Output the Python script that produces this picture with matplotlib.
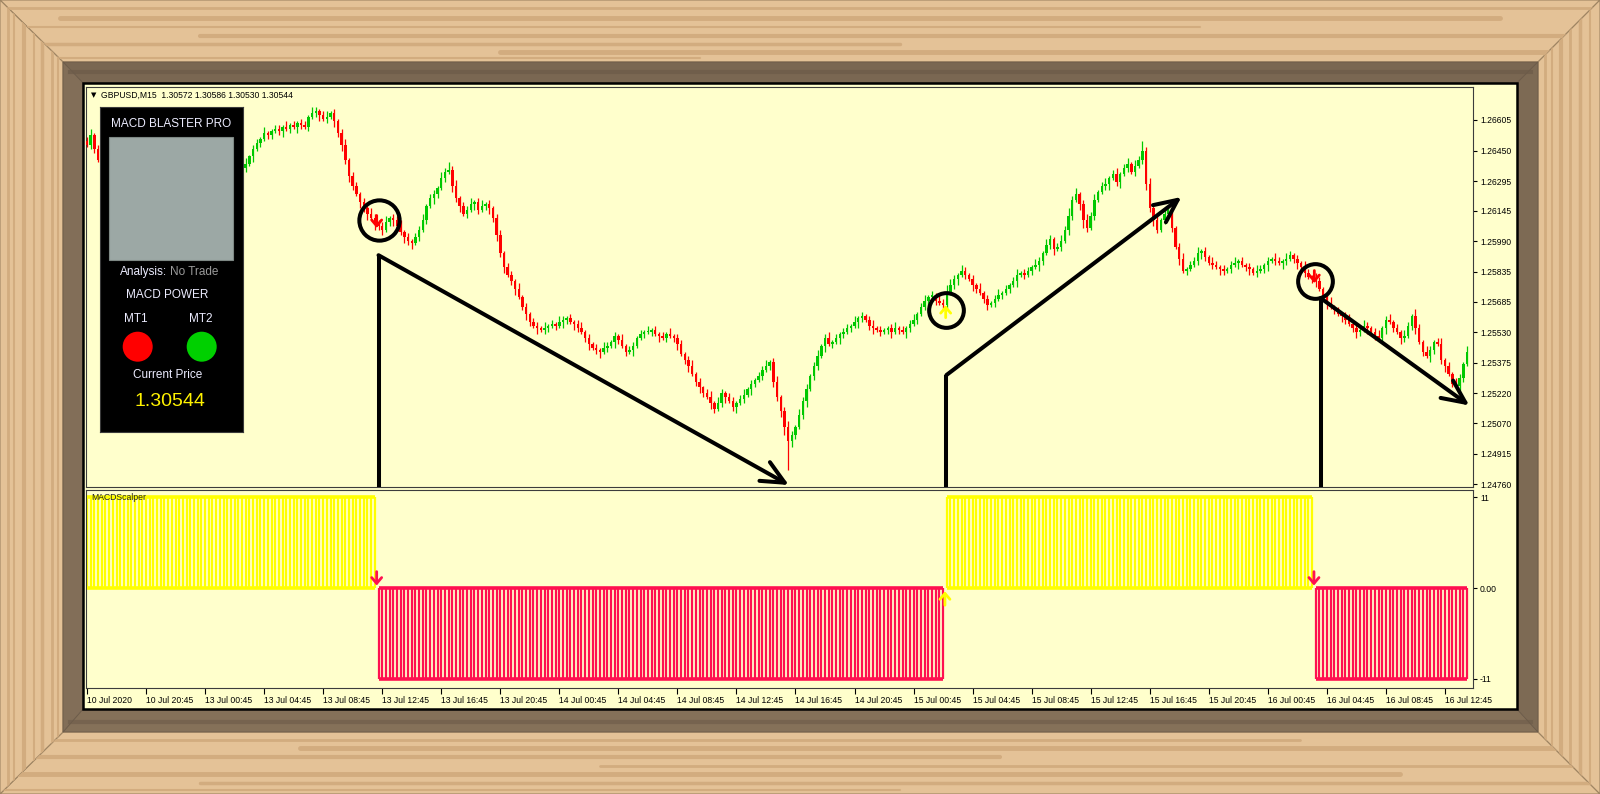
import matplotlib
matplotlib.use("Agg")
import matplotlib.pyplot as plt
from matplotlib.patches import Polygon, Rectangle, Circle
import numpy as np

plt.rcParams["font.family"] = ["Liberation Sans", "DejaVu Sans"]

# ---- data -------------------------------------------------------------
BASE = 1.24700          # closes below are in pips above this level
FIRST_OPEN_PIPS = 180

CLOSE_PIPS = [
    178, 183, 176, 170, 172, 175, 173, 177, 180, 178, 176, 179, 182, 180, 177, 174, 176, 178, 175, 172, 170, 173, 171, 168, 170,
    172, 169, 167, 170, 173, 171, 168, 166, 169, 171, 168, 165, 167, 170, 168, 166, 164, 166, 168, 172, 176, 179, 181, 184, 183,
    185, 186, 185, 187, 186, 188, 187, 189, 188, 187, 192, 194, 195, 193, 191, 192, 194, 190, 184, 178, 170, 162, 157, 153, 149,
    146, 143, 141, 139, 137, 135, 139, 141, 140, 137, 134, 131, 129, 128, 131, 135, 140, 147, 151, 153, 156, 161, 164, 165, 157,
    151, 147, 143, 145, 148, 149, 145, 147, 148, 146, 141, 132, 123, 116, 112, 109, 105, 101, 96, 92, 88, 86, 85, 84, 85,
    86, 87, 86, 88, 89, 90, 88, 87, 85, 83, 80, 77, 75, 74, 73, 75, 76, 78, 81, 79, 76, 73, 74, 76, 80,
    82, 83, 83, 84, 82, 81, 80, 82, 81, 80, 77, 72, 69, 66, 62, 58, 55, 52, 50, 47, 44, 47, 52, 50, 48,
    45, 47, 49, 51, 54, 57, 59, 61, 64, 66, 68, 58, 50, 43, 35, 28, 31, 35, 41, 48, 54, 61, 66, 71, 76,
    80, 77, 78, 80, 82, 83, 85, 86, 88, 90, 91, 89, 86, 85, 84, 83, 84, 85, 83, 85, 84, 83, 85, 87, 89,
    92, 96, 99, 101, 102, 99, 98, 97, 103, 107, 110, 112, 114, 112, 110, 107, 105, 103, 100, 97, 98, 100, 102, 103, 105,
    107, 109, 112, 113, 112, 114, 116, 117, 119, 123, 127, 130, 125, 126, 129, 135, 142, 150, 153, 148, 140, 136, 142, 150, 154,
    157, 158, 161, 163, 159, 163, 166, 168, 164, 167, 170, 175, 158, 146, 140, 135, 140, 143, 145, 136, 126, 120, 114, 115, 117,
    119, 123, 124, 121, 118, 117, 116, 115, 114, 115, 117, 118, 119, 117, 116, 115, 113, 114, 115, 117, 119, 120, 119, 118, 119,
    120, 122, 120, 118, 116, 113, 111, 110, 109, 105, 101, 98, 96, 94, 92, 91, 89, 87, 85, 83, 84, 86, 85, 83, 81,
    80, 85, 89, 88, 85, 83, 80, 81, 86, 91, 85, 78, 73, 71, 74, 78, 77, 69, 66, 62, 57, 56, 60, 67, 73,
]

UPPER_WICK = [
    2, 3, 1, 2, 1, 2, 1, 1, 3, 1, 2, 1, 1, 2, 1, 2, 1, 3, 1, 1, 2, 1, 2, 1, 1,
    2, 1, 1, 3, 1, 2, 1, 2, 1, 1, 2, 3, 1, 1, 2, 1, 2, 1, 3, 1, 2, 2, 1, 3, 1,
    1, 2, 2, 1, 3, 1, 2, 1, 2, 2, 1, 3, 2, 1, 2, 3, 1, 2, 1, 2, 3, 1, 2, 2, 1,
    2, 1, 3, 2, 1, 2, 3, 1, 2, 2, 3, 1, 2, 1, 2, 2, 3, 1, 2, 2, 1, 3, 2, 4, 2,
    3, 1, 2, 2, 3, 1, 2, 3, 1, 2, 1, 2, 3, 1, 2, 2, 1, 3, 1, 2, 1, 2, 2, 1, 3,
    1, 2, 1, 3, 2, 1, 2, 1, 2, 3, 1, 2, 1, 2, 1, 3, 2, 1, 2, 1, 3, 1, 2, 2, 1,
    2, 1, 3, 1, 2, 1, 2, 1, 3, 1, 2, 2, 1, 2, 3, 1, 2, 1, 2, 3, 1, 3, 2, 1, 2,
    2, 1, 2, 3, 1, 2, 1, 2, 2, 3, 1, 2, 3, 1, 2, 3, 2, 1, 3, 2, 3, 1, 2, 3, 1,
    2, 3, 1, 2, 1, 2, 2, 1, 3, 1, 2, 1, 2, 3, 1, 2, 1, 1, 2, 3, 1, 2, 1, 2, 3,
    1, 2, 3, 1, 2, 1, 3, 2, 4, 3, 2, 1, 3, 2, 1, 2, 1, 3, 1, 2, 1, 2, 3, 1, 2,
    1, 2, 3, 1, 2, 2, 1, 3, 2, 1, 3, 2, 1, 2, 3, 2, 4, 2, 3, 1, 2, 3, 2, 3, 1,
    2, 3, 1, 2, 3, 1, 2, 3, 1, 3, 2, 5, 2, 3, 2, 3, 1, 2, 2, 3, 1, 2, 3, 1, 2,
    2, 3, 1, 2, 1, 3, 2, 1, 2, 1, 2, 3, 1, 2, 1, 2, 1, 3, 2, 1, 2, 1, 3, 2, 1,
    3, 2, 1, 2, 1, 3, 2, 1, 3, 2, 1, 2, 3, 1, 2, 1, 2, 3, 1, 2, 1, 3, 2, 1, 2,
    3, 1, 2, 3, 1, 2, 1, 3, 2, 1, 4, 2, 1, 3, 2, 1, 2, 3, 1, 2, 1, 3, 2, 1, 3,
]

LOWER_WICK = [
    1, 2, 2, 1, 3, 1, 2, 1, 1, 2, 3, 1, 2, 1, 2, 1, 3, 1, 2, 1, 1, 2, 3, 1, 2,
    1, 3, 2, 1, 2, 1, 1, 3, 2, 1, 2, 1, 3, 1, 2, 2, 1, 3, 2, 1, 3, 1, 2, 1, 2,
    2, 1, 2, 3, 1, 2, 1, 3, 2, 1, 2, 1, 2, 3, 1, 2, 1, 3, 2, 3, 2, 3, 2, 1, 3,
    2, 3, 1, 4, 2, 3, 1, 2, 3, 1, 2, 3, 2, 3, 1, 2, 1, 2, 1, 3, 2, 1, 2, 1, 3,
    2, 3, 1, 2, 1, 3, 2, 1, 2, 3, 2, 3, 2, 3, 1, 2, 3, 1, 2, 3, 2, 1, 3, 1, 2,
    2, 1, 2, 1, 3, 2, 1, 3, 2, 1, 2, 3, 1, 2, 3, 1, 2, 1, 3, 2, 1, 2, 1, 3, 1,
    1, 2, 1, 2, 1, 3, 1, 2, 1, 2, 3, 1, 2, 3, 1, 2, 3, 2, 1, 3, 2, 1, 2, 3, 1,
    2, 3, 1, 2, 1, 3, 2, 1, 2, 1, 2, 3, 2, 3, 4, 15, 3, 2, 1, 2, 3, 1, 2, 2, 1,
    3, 1, 2, 1, 3, 2, 1, 2, 1, 3, 2, 1, 2, 3, 1, 2, 1, 2, 3, 1, 2, 1, 3, 2, 1,
    2, 1, 2, 3, 1, 2, 1, 3, 2, 1, 2, 3, 1, 2, 1, 3, 2, 1, 2, 3, 1, 2, 1, 2, 1,
    2, 1, 3, 1, 2, 1, 2, 1, 3, 2, 1, 2, 3, 1, 2, 1, 3, 2, 1, 3, 4, 2, 1, 2, 1,
    1, 2, 3, 1, 2, 3, 1, 2, 1, 2, 1, 2, 3, 2, 3, 2, 1, 2, 3, 2, 1, 3, 1, 2, 1,
    1, 2, 3, 2, 1, 2, 1, 3, 2, 1, 2, 1, 3, 1, 2, 3, 1, 2, 1, 2, 3, 1, 2, 1, 3,
    2, 1, 2, 3, 1, 2, 1, 2, 3, 1, 2, 3, 1, 2, 1, 3, 2, 1, 2, 3, 2, 1, 3, 1, 2,
    1, 2, 3, 1, 2, 1, 3, 2, 1, 2, 3, 1, 2, 1, 3, 2, 1, 2, 3, 1, 2, 1, 3, 2, 1,
]

TIME_LABELS = [
    "10 Jul 2020", "10 Jul 20:45", "13 Jul 00:45", "13 Jul 04:45", "13 Jul 08:45",
    "13 Jul 12:45", "13 Jul 16:45", "13 Jul 20:45", "14 Jul 00:45", "14 Jul 04:45",
    "14 Jul 08:45", "14 Jul 12:45", "14 Jul 16:45", "14 Jul 20:45", "15 Jul 00:45",
    "15 Jul 04:45", "15 Jul 08:45", "15 Jul 12:45", "15 Jul 16:45", "15 Jul 20:45",
    "16 Jul 00:45", "16 Jul 04:45", "16 Jul 08:45", "16 Jul 12:45",
]
BARS_PER_LABEL = 16

PRICE_TICKS = [1.26605, 1.26450, 1.26295, 1.26145, 1.25990, 1.25835, 1.25685,
               1.25530, 1.25375, 1.25220, 1.25070, 1.24915, 1.24760]

# MACDScalper histogram: value of each run and how many bars it lasts
SEGMENT_VALUE = [11, -11, 11, -11]
SEGMENT_BARS = [79, 154, 100, 42]

# hand drawn trend lines (bar, price)
TREND_START = [(79.0, 1.25920), (232.9, 1.25313), (334.3, 1.25703)]
TREND_END = [(190.2, 1.24756), (296.6, 1.26215), (374.6, 1.25159)]
CIRCLES = [(79.0, 1.26096, 29), (232.9, 1.25642, 25), (332.9, 1.25791, 25)]
CHART_SIGNALS = [(78.5, 1.26058, "down"), (232.7, 1.25667, "up"), (332.6, 1.25779, "down")]

HEADER = "GBPUSD,M15  1.30572 1.30586 1.30530 1.30544"

BG = "#FFFFCC"
GREEN = "#00C800"
RED = "#FF0000"
HIST_YELLOW = "#FFFF00"
HIST_RED = "#FF1050"
WOOD = "#E4C297"
GRAIN = "#D2AC7F"
BEVEL_DARK = "#6C5B49"

W, H = 1600, 794


def fig_box(x0, y0, x1, y1):
    """pixel box (top-left origin) -> figure fraction rect"""
    return [x0 / W, 1 - y1 / H, (x1 - x0) / W, (y1 - y0) / H]


def draw_frame(bg):
    # outer wooden frame with mitred corners
    wood = [
        [(0, 0), (W, 0), (1538, 62), (63, 62)],
        [(0, H), (W, H), (1538, 732), (63, 732)],
        [(0, 0), (63, 62), (63, 732), (0, H)],
        [(W, 0), (1538, 62), (1538, 732), (W, H)],
    ]
    grains = [
        [(8, 0, 1600, 2.0), (18, 60, 1500, 3.5), (27, 0, 1200, 1.5), (36, 200, 1600, 3.0),
         (44, 0, 900, 2.5), (52, 500, 1600, 3.5), (58, 0, 700, 1.5)],
        [(740, 0, 1300, 2.0), (748, 300, 1600, 3.5), (757, 0, 1000, 3.0), (766, 600, 1600, 2.0),
         (774, 0, 1400, 3.5), (783, 200, 1600, 2.5), (790, 0, 900, 1.5)],
    ]
    vgrains = [
        [(8, 2.0), (14, 1.5), (24, 3.0), (34, 1.5), (42, 2.5), (52, 2.0), (58, 1.5)],
        [(1545, 2.0), (1552, 1.5), (1561, 3.0), (1570, 2.0), (1580, 2.5), (1590, 1.5)],
    ]
    for i, pts in enumerate(wood):
        poly = Polygon(pts, closed=True, fc=WOOD, ec="#9E8462", lw=0.8, zorder=1)
        bg.add_patch(poly)
        if i < 2:
            for y, xa, xb, lw in grains[i]:
                ln, = bg.plot([xa, xb], [y, y], color=GRAIN, lw=lw, zorder=2,
                              solid_capstyle="round")
                ln.set_clip_path(poly)
        else:
            for x, lw in vgrains[i - 2]:
                ln, = bg.plot([x, x], [0, H], color=GRAIN, lw=lw, zorder=2)
                ln.set_clip_path(poly)

    # dark inner bevel
    bevel = [
        ([(63, 62), (1538, 62), (1517, 83), (83, 83)], "#7A6752"),
        ([(63, 732), (1538, 732), (1517, 709), (83, 709)], "#857159"),
        ([(63, 62), (83, 83), (83, 709), (63, 732)], "#826E58"),
        ([(1538, 62), (1517, 83), (1517, 709), (1538, 732)], "#7D6A54"),
    ]
    for pts, col in bevel:
        poly = Polygon(pts, closed=True, fc=col, ec=BEVEL_DARK, lw=0.6, zorder=3)
        bg.add_patch(poly)
    bg.plot([70, 1531], [72, 72], color=BEVEL_DARK, lw=3, zorder=3.5, alpha=0.7)
    bg.plot([70, 1531], [722, 722], color=BEVEL_DARK, lw=3, zorder=3.5, alpha=0.6)

    # chart window
    bg.add_patch(Rectangle((83, 83), 1434, 626, fc=BG, ec="black", lw=1.8, zorder=4))


def draw_candles(ax):
    close = BASE + np.array(CLOSE_PIPS) / 1e4
    opens = np.r_[BASE + FIRST_OPEN_PIPS / 1e4, close[:-1]]
    high = np.maximum(opens, close) + np.array(UPPER_WICK) / 1e4
    low = np.minimum(opens, close) - np.array(LOWER_WICK) / 1e4
    x = np.arange(len(close))
    up = close >= opens
    colors = np.where(up, GREEN, RED)
    ax.vlines(x, low, high, colors=colors, lw=0.9, zorder=2)
    body = np.maximum(np.abs(close - opens), 0.00004)
    ax.bar(x, body, bottom=np.minimum(opens, close), width=0.66,
           color=colors, linewidth=0, zorder=3)


def draw_annotations(ax, ymin):
    for (b0, p0), (b1, p1) in zip(TREND_START, TREND_END):
        ax.plot([b0, b0], [ymin, p0], color="black", lw=2.9,
                solid_capstyle="butt", zorder=6)
        ax.annotate("", xy=(b1, p1), xytext=(b0, p0),
                    arrowprops=dict(arrowstyle="->,head_length=0.75,head_width=0.35",
                                    color="black", lw=2.9, mutation_scale=22,
                                    shrinkA=0, shrinkB=0),
                    zorder=6)
    for b, p, ms in CIRCLES:
        ax.plot([b], [p], "o", ms=ms, mfc="none", mec="black", mew=2.9, zorder=6)
    for b, p, kind in CHART_SIGNALS:
        col = RED if kind == "down" else HIST_YELLOW
        dy = 9 if kind == "down" else -9
        ax.annotate("", xy=(b, p), xytext=(0, dy), textcoords="offset points",
                    arrowprops=dict(arrowstyle="->,head_length=0.35,head_width=0.3",
                                    color=col, lw=2.0, mutation_scale=12,
                                    shrinkA=0, shrinkB=0),
                    zorder=7)


def draw_histogram(ax):
    start = 0
    for value, n in zip(SEGMENT_VALUE, SEGMENT_BARS):
        col = HIST_YELLOW if value > 0 else HIST_RED
        xs = np.arange(start, start + n)
        ax.vlines(xs, 0, value, colors=col, lw=1.6, zorder=2)
        ax.hlines([0, value], xs[0], xs[-1], colors=col, lw=2.6, zorder=3)
        if start > 0:
            # signal arrow where the histogram flips
            dy = 10 if value < 0 else -10
            tip = 0.3 if value < 0 else -0.4
            ax.annotate("", xy=(start - 0.5, tip), xytext=(0, dy),
                        textcoords="offset points",
                        arrowprops=dict(arrowstyle="->,head_length=0.35,head_width=0.3",
                                        color=col, lw=2.0, mutation_scale=12,
                                        shrinkA=0, shrinkB=0),
                        zorder=5)
        start += n


def draw_info_panel(fig):
    pan = fig.add_axes(fig_box(100, 107, 243, 432), zorder=10)
    pan.set_xlim(100, 243)
    pan.set_ylim(432, 107)
    pan.set_facecolor("black")
    pan.set_xticks([])
    pan.set_yticks([])
    for sp in pan.spines.values():
        sp.set_color("#3a3a3a")
        sp.set_linewidth(0.8)
    pan.add_patch(Rectangle((109, 137), 124, 123, fc="#9CA8A5", ec="#7E8884", lw=0.8))
    txt = dict(ha="center", va="center", color="#ECECFF", fontsize=8.5)
    pan.text(171, 124, "MACD BLASTER PRO", **txt)
    pan.text(167.5, 272, "Analysis:", ha="right", va="center", color="#ECECFF", fontsize=8.5)
    pan.text(169.5, 272, "No Trade", ha="left", va="center", color="#9A9A9A", fontsize=8.5)
    pan.text(167, 295, "MACD POWER", **txt)
    pan.text(136, 319, "MT1", **txt)
    pan.text(200.5, 319, "MT2", **txt)
    pan.add_patch(Circle((137.7, 346.7), 15, fc="#FF0000", ec="none"))
    pan.add_patch(Circle((201.7, 346.7), 15, fc="#00D000", ec="none"))
    pan.text(168, 375, "Current Price", **txt)
    pan.text(170, 402, "1.30544", ha="center", va="center", color="#FFF200", fontsize=14)


def main():
    fig = plt.figure(figsize=(W / 100, H / 100), dpi=100)

    bg = fig.add_axes([0, 0, 1, 1], zorder=0)
    bg.set_xlim(0, W)
    bg.set_ylim(H, 0)
    bg.axis("off")
    draw_frame(bg)

    xlim = (-0.27, 375.6)

    # price window
    ax = fig.add_axes(fig_box(86, 87, 1473, 487), zorder=1)
    ax.set_facecolor(BG)
    ymin, ymax = 1.24746, 1.26772
    draw_candles(ax)
    draw_annotations(ax, ymin)
    ax.set_xlim(*xlim)
    ax.set_ylim(ymin, ymax)
    ax.set_xticks([])
    ax.yaxis.tick_right()
    ax.set_yticks(PRICE_TICKS)
    ax.set_yticklabels([f"{p:.5f}" for p in PRICE_TICKS])
    ax.tick_params(axis="y", length=3, width=0.8, pad=2, labelsize=6.2, colors="black")

    # indicator window
    ax2 = fig.add_axes(fig_box(86, 490, 1473, 688), zorder=1)
    ax2.set_facecolor(BG)
    draw_histogram(ax2)
    ax2.set_xlim(*xlim)
    ax2.set_ylim(-12.09, 11.85)
    ax2.yaxis.tick_right()
    ax2.set_yticks([11, 0, -11])
    ax2.set_yticklabels(["11", "0.00", "-11"])
    ax2.tick_params(axis="y", length=3, width=0.8, pad=2, labelsize=6.2)
    ticks = [i * BARS_PER_LABEL for i in range(len(TIME_LABELS))]
    ax2.set_xticks(ticks)
    ax2.set_xticklabels(TIME_LABELS)
    ax2.tick_params(axis="x", length=4, width=0.8, pad=1.5, labelsize=6.2)
    for lbl in ax2.get_xticklabels():
        lbl.set_ha("left")

    for a in (ax, ax2):
        for sp in a.spines.values():
            sp.set_color("#3c3c3c")
            sp.set_linewidth(0.8)

    draw_info_panel(fig)

    # window captions
    fig.text(91 / W, 1 - 95 / H, "▼", fontsize=5, va="center", ha="left",
             family=["DejaVu Sans"], zorder=12)
    fig.text(101 / W, 1 - 95 / H, HEADER, fontsize=6.2, va="center", ha="left", zorder=12)
    fig.text(91 / W, 1 - 498 / H, "MACDScalper", fontsize=6.2, va="center", ha="left",
             color="#222222", zorder=12)

    fig.savefig("out.png", dpi=100)


if __name__ == "__main__":
    main()
